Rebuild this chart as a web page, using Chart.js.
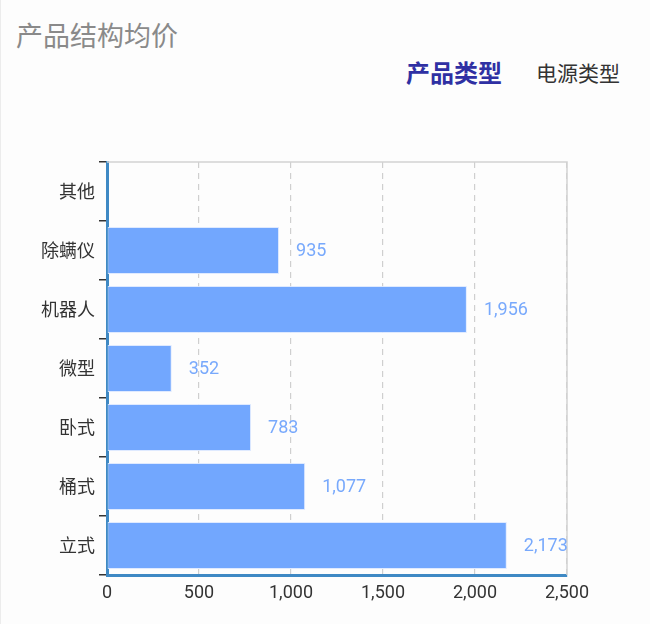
<!DOCTYPE html>
<html lang="zh">
<head>
<meta charset="utf-8">
<title>产品结构均价</title>
<script src="https://cdn.jsdelivr.net/npm/chart.js@4.4.1/dist/chart.umd.min.js"></script>
<style>
    html, body {
        margin: 0;
        padding: 0;
        background: #fdfdfd;
        font-family: Roboto, 'Noto Sans CJK SC', sans-serif;
    }
    .card {
        position: relative;
        width: 650px;
        height: 624px;
        overflow: hidden;
        border-left: 1px solid #ececec;
        box-sizing: border-box;
    }
    .title {
        position: absolute;
        left: 15px;
        top: 15px;
        font-size: 27px;
        line-height: 40px;
        color: #8a8a8a;
        font-family: 'Noto Sans CJK SC', sans-serif;
    }
    .tabs {
        position: absolute;
        top: 55px;
        right: 30px;
        display: flex;
        align-items: center;
        font-family: 'Noto Sans CJK SC', sans-serif;
    }
    .tab {
        margin-left: 34px;
        font-size: 21px;
        line-height: 34px;
        color: #333;
    }
    .tab.active {
        font-size: 24px;
        font-weight: bold;
        color: #2f30a3;
    }
    #wrap {
        position: absolute;
        left: -1px;
        top: 0;
        width: 650px;
        height: 624px;
    }
</style>
</head>
<body>
<div class="card">
    <div class="title">产品结构均价</div>
    <div class="tabs" id="tabs"></div>
    <div id="wrap"><canvas id="price-chart" width="650" height="624"></canvas></div>
</div>
<script>
// Chart data
const tabNames = ['产品类型', '电源类型'];
const categories = ['其他', '除螨仪', '机器人', '微型', '卧式', '桶式', '立式'];
const avgPrices = [0, 935, 1956, 352, 783, 1077, 2173];
const xTickValues = [0, 500, 1000, 1500, 2000, 2500];

const tabsEl = document.getElementById('tabs');
tabNames.forEach((name, i) => {
    const span = document.createElement('span');
    span.className = 'tab' + (i === 0 ? ' active' : '');
    span.textContent = name;
    tabsEl.appendChild(span);
});

// Grey frame on top and right of the plot area
const frameLines = {
    id: 'frameLines',
    beforeDatasetsDraw(chart) {
        const {ctx, chartArea} = chart;
        ctx.save();
        ctx.strokeStyle = '#d2d2d2';
        ctx.lineWidth = 1.5;
        ctx.beginPath();
        ctx.moveTo(chartArea.left, chartArea.top);
        ctx.lineTo(chartArea.right, chartArea.top);
        ctx.lineTo(chartArea.right, chartArea.bottom);
        ctx.stroke();
        ctx.restore();
    }
};

// Value labels to the right of each bar
const valueLabels = {
    id: 'valueLabels',
    afterDatasetsDraw(chart) {
        const {ctx} = chart;
        const meta = chart.getDatasetMeta(0);
        const data = chart.data.datasets[0].data;
        ctx.save();
        ctx.font = '18px Roboto, "Noto Sans CJK SC", sans-serif';
        ctx.fillStyle = '#78a9fc';
        ctx.textAlign = 'left';
        ctx.textBaseline = 'middle';
        meta.data.forEach((bar, i) => {
            if (!data[i]) return;
            ctx.fillText(data[i].toLocaleString('en-US'), bar.x + 17, bar.y + 1);
        });
        ctx.restore();
    }
};

const ctx = document.getElementById('price-chart').getContext('2d');
new Chart(ctx, {
    type: 'bar',
    data: {
        labels: categories,
        datasets: [{
            label: '均价',
            data: avgPrices,
            backgroundColor: '#72a7fe',
            borderColor: 'rgba(220, 232, 255, 0.9)',
            borderWidth: 1,
            borderSkipped: false,
            barPercentage: 0.8,
            categoryPercentage: 1.0
        }]
    },
    options: {
        indexAxis: 'y',
        responsive: false,
        animation: false,
        locale: 'en-US',
        layout: {
            padding: { top: 162, right: 83, left: 0, bottom: 0 }
        },
        scales: {
            x: {
                min: 0,
                max: 2500,
                afterFit(scale) { scale.height = 49; },
                afterBuildTicks(scale) {
                    scale.ticks = xTickValues.map(v => ({ value: v }));
                },
                grid: {
                    color: '#cfcfcf',
                    lineWidth: 1.2,
                    drawTicks: false
                },
                border: {
                    color: '#3f89c4',
                    width: 3,
                    dash: [6, 5]
                },
                ticks: {
                    color: '#333',
                    padding: 8,
                    maxRotation: 0,
                    font: { size: 18, family: 'Roboto' },
                    callback: v => v.toLocaleString('en-US')
                }
            },
            y: {
                afterFit(scale) { scale.width = 107; },
                grid: {
                    drawOnChartArea: false,
                    drawTicks: true,
                    tickLength: 8,
                    color: '#333',
                    lineWidth: 1.5
                },
                border: {
                    color: '#3f89c4',
                    width: 3
                },
                ticks: {
                    color: '#333',
                    padding: 4,
                    font: { size: 18, family: '"Noto Sans CJK SC", sans-serif' }
                }
            }
        },
        plugins: {
            legend: { display: false },
            tooltip: { enabled: false }
        }
    },
    plugins: [frameLines, valueLabels]
});
</script>
</body>
</html>
